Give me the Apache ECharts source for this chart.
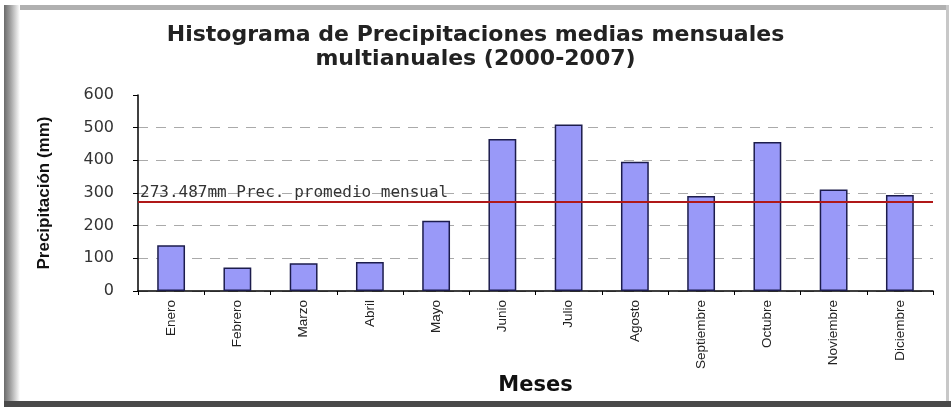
<!DOCTYPE html>
<html>
<head>
<meta charset="utf-8">
<script src="https://cdn.jsdelivr.net/npm/echarts@6/dist/echarts.min.js"></script>
<style>
html,body{margin:0;padding:0;background:#fff;}
#chart{width:951px;height:407px;}
</style>
</head>
<body>
<div id="chart"></div>
<script>
const months = ['Enero','Febrero','Marzo','Abril','Mayo','Junio','Julio','Agosto','Septiembre','Octubre','Noviembre','Diciembre'];
const precip = [140, 72, 85, 89, 215, 465, 510, 396, 291, 456, 311, 294];
const average = 273.487;
const yTicks = [0, 100, 200, 300, 400, 500, 600];

const chart = echarts.init(document.getElementById('chart'));
chart.setOption({
  backgroundColor: '#ffffff',
  animation: false,
  title: {
    text: 'Histograma de Precipitaciones medias mensuales\nmultianuales (2000-2007)',
    left: 'center',
    top: 18,
    textStyle: {fontFamily: 'DejaVu Sans', fontWeight: 'bold', fontSize: 22, lineHeight: 24, color: '#222'}
  },
  graphic: [
    {type: 'rect', shape: {x: 4, y: 5, width: 944, height: 5}, style: {fill: '#b0b0b0'}, silent: true},
    {type: 'rect', shape: {x: 4, y: 5, width: 16, height: 400},
      style: {fill: new echarts.graphic.LinearGradient(0, 0, 1, 0, [
        {offset: 0, color: '#6a6a6a'}, {offset: 0.35, color: '#999'}, {offset: 1, color: '#ffffff'}])}, silent: true},
    {type: 'rect', shape: {x: 946, y: 5, width: 3, height: 400}, style: {fill: '#c8c8c8'}, silent: true},
    {type: 'rect', shape: {x: 4, y: 401, width: 947, height: 6}, style: {fill: '#4a4a4a'}, silent: true}
  ],
  grid: {left: 138, right: 18, top: 95, bottom: 116},
  xAxis: {
    type: 'category',
    data: months,
    boundaryGap: true,
    name: 'Meses',
    nameLocation: 'middle',
    nameGap: 84,
    nameTextStyle: {fontFamily: 'DejaVu Sans', fontWeight: 'bold', fontSize: 21, color: '#111'},
    axisLine: {lineStyle: {color: '#000', width: 1.5}},
    axisTick: {show: true, length: 4, lineStyle: {color: '#000'}},
    axisLabel: {rotate: 90, margin: 9, fontFamily: 'Liberation Sans', fontSize: 13.5, color: '#222'}
  },
  yAxis: {
    type: 'value',
    min: 0, max: 600, interval: 100,
    name: 'Precipitación (mm)',
    nameLocation: 'middle',
    nameRotate: 90,
    nameGap: 85,
    nameTextStyle: {fontFamily: 'Liberation Sans', fontWeight: 'bold', fontSize: 17, color: '#111'},
    axisLine: {show: true, lineStyle: {color: '#000', width: 1.5}},
    axisTick: {show: true, length: 5, lineStyle: {color: '#000'}},
    axisLabel: {margin: 24, fontFamily: 'DejaVu Sans', fontSize: 16, color: '#333',
      formatter: v => yTicks.includes(v) ? String(v) : ''},
    splitLine: {show: true, lineStyle: {type: [10, 8], width: 1,
      color: ['#aaa','#aaa','#aaa','#aaa','#aaa','#aaa','rgba(0,0,0,0)']}}
  },
  series: [{
    type: 'bar',
    data: precip,
    barWidth: '42%',
    itemStyle: {color: '#9999f8', borderColor: '#1c1c4c', borderWidth: 1.5},
    markLine: {
      symbol: 'none',
      silent: true,
      lineStyle: {color: '#b01818', width: 2, type: 'solid'},
      label: {
        show: true,
        position: 'insideStartTop',
        formatter: average + 'mm Prec. promedio mensual',
        fontFamily: 'DejaVu Sans Mono',
        fontSize: 16,
        color: '#333',
        distance: [2, 1]
      },
      data: [{yAxis: average}]
    }
  }]
});
</script>
</body>
</html>
